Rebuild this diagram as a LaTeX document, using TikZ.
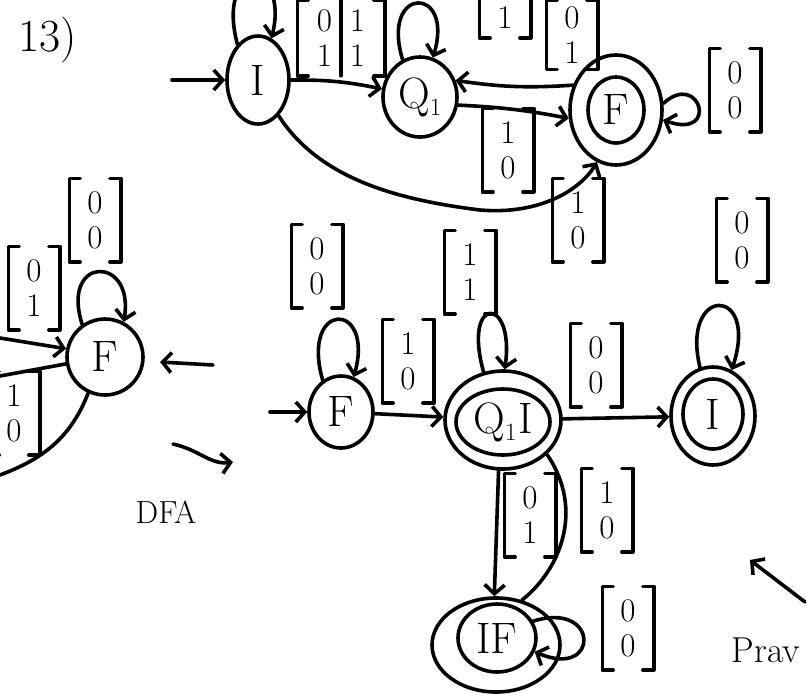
\documentclass[tikz,border=0pt]{standalone}
\usepackage{fontspec}
\usetikzlibrary{arrows.meta,shapes.geometric}
\newcommand\sfont{\fontsize{44}{48}\selectfont}
\newcommand\vfont{\fontsize{33}{35}\selectfont}
\newcommand\vecbox[4]{%
  \node[vecn] (#1) at (#2) {#3\\#4};
  \draw[brk] ([xshift=11pt]#1.north west) -- (#1.north west) -- (#1.south west) -- ([xshift=11pt]#1.south west);
  \draw[brk] ([xshift=-11pt]#1.north east) -- (#1.north east) -- (#1.south east) -- ([xshift=-11pt]#1.south east);}
\newcommand\brackets[1]{%
  \draw[brk] ([xshift=11pt]#1.north west) -- (#1.north west) -- (#1.south west) -- ([xshift=11pt]#1.south west);
  \draw[brk] ([xshift=-11pt]#1.north east) -- (#1.north east) -- (#1.south east) -- ([xshift=-11pt]#1.south east);}
\begin{document}
\begin{tikzpicture}[x=1pt,y=-1pt,line width=3.6pt,line cap=round,line join=round,
  >={Straight Barb[length=9pt,width=20pt]},
  st/.style={draw,ellipse,inner sep=0pt,font=\sfont},
  vecn/.style={align=center,font=\vfont,inner xsep=8pt,inner ysep=4pt,minimum width=48pt,minimum height=80pt},
  brk/.style={line width=3.4pt},
  edge/.style={->}]
\fill[white] (0,0) rectangle (807,697);
\useasboundingbox (0,0) rectangle (807,697);

% title
\node[font=\fontsize{46}{50}\selectfont] (title) at (48,40) {13)};

% ---------- top automaton ----------
\node[st,minimum width=62pt,minimum height=88pt] (I1) at (258,80) {I};
\node[st,minimum width=74pt,minimum height=80pt] (Q1) at (420,97) {Q$_1$};
\node[st,minimum width=92pt,minimum height=110pt] (F1) at (616,110) {};
\node[st,minimum width=56pt,minimum height=66pt] (F1i) at (616,110) {F};
\coordinate (s1) at (172,80);
\draw[edge] (s1) -- (I1);
\draw[edge] (I1.120) .. controls (215,-40) and (290,-40) .. (I1.72);
\draw[edge] (I1) to[bend left=6] (Q1);
\draw[edge] (Q1.115) .. controls (380,-15) and (455,-15) .. (Q1.72);
\draw[edge] (F1.150) to[bend left=6] (Q1.25);
\draw[edge] (Q1.-12) to[bend left=4] (F1.190);
\draw[edge] (F1.8) .. controls (700,70) and (720,140) .. (F1.-12);
\draw[edge] (I1.-60) .. controls (320,180) and (400,200) .. (480,210)
   .. controls (540,215) and (580,190) .. (F1.-110);
% top labels
\node[vecn,minimum width=84pt,minimum height=72pt] (L1) at (341,38) {0\hspace{18pt}1\\1\hspace{18pt}1};
\brackets{L1}
\draw[brk] (L1.north) -- (L1.south);
\node[vecn,minimum height=36pt] (L2) at (505,18) {1};
\brackets{L2}
\node[vecn,minimum height=60pt] (L3) at (572,35) {0\\1};
\brackets{L3}
\vecbox{L4}{508,150}{1}{0}
\vecbox{L5}{735,90}{0}{0}
\vecbox{L6}{578,220}{1}{0}

% ---------- left partial automaton ----------
\node[st,minimum size=76pt] (F3) at (105,357) {F};
\coordinate (e1) at (0,338);
\coordinate (e2) at (0,376);
\coordinate (e3) at (0,475);
\draw[edge] (e1) -- (F3.168);
\draw (e2) -- (F3.190);
\draw (F3.-115) .. controls (70,440) and (40,460) .. (e3);
\draw[edge] (F3.125) .. controls (60,255) and (135,255) .. (F3.62);
\vecbox{L7}{95,220}{0}{0}
\vecbox{L8}{34,288}{0}{1}
\vecbox{L9}{14,413}{1}{0}
\coordinate (a1) at (213,365);
\coordinate (a2) at (160,362);
\draw[edge] (a1) -- (a2);
\coordinate (b1) at (173,444);
\coordinate (b2) at (233,462);
\draw[edge] (b1) .. controls (200,450) and (210,465) .. (b2);
\node[font=\fontsize{32}{36}\selectfont] (dfa) at (166,512) {DFA};

% ---------- bottom automaton ----------
\node[st,minimum width=64pt,minimum height=72pt] (F4) at (341,412) {F};
\node[st,minimum width=116pt,minimum height=98pt] (QI) at (503,420) {};
\node[st,minimum width=94pt,minimum height=66pt] (QIi) at (503,422) {Q$_1$\kern1pt I};
\node[st,minimum width=84pt,minimum height=98pt] (I5) at (713,416) {};
\node[st,minimum width=60pt,minimum height=70pt] (I5i) at (713,414) {I};
\node[st,minimum width=128pt,minimum height=94pt] (IF) at (496,645) {};
\node[st,minimum width=78pt,minimum height=68pt] (IFi) at (497,638) {IF};
\coordinate (s4) at (270,412);
\draw[edge] (s4) -- (F4);
\draw[edge] (F4.120) .. controls (300,300) and (375,300) .. (F4.70);
\draw[edge] (F4) -- (QI);
\draw[edge] (QI.112) .. controls (462,295) and (515,295) .. (QI.88);
\draw[edge] (QI) -- (I5);
\draw[edge] (I5.105) .. controls (680,285) and (760,285) .. (I5.68);
\draw[edge] (QI.-95) -- (IF.92);
\draw (IF.60) .. controls (560,570) and (585,510) .. (QI.-38);
\draw[edge] (IFi.25) .. controls (600,600) and (600,680) .. (IFi.-20);
\vecbox{L10}{317,266}{0}{0}
\vecbox{L11}{408,361}{1}{0}
\vecbox{L12}{470,272}{1}{1}
\vecbox{L13}{596,365}{0}{0}
\vecbox{L14}{742,240}{0}{0}
\vecbox{L15}{530,515}{0}{1}
\vecbox{L16}{607,510}{1}{0}
\vecbox{L17}{628,628}{0}{0}

% ---------- right margin ----------
\coordinate (c1) at (805,602);
\coordinate (c2) at (750,560);
\draw[edge] (c1) -- (c2);
\node[font=\fontsize{36}{40}\selectfont,anchor=west,inner sep=0pt] (prav) at (730,650) {Prav};
\end{tikzpicture}
\end{document}
